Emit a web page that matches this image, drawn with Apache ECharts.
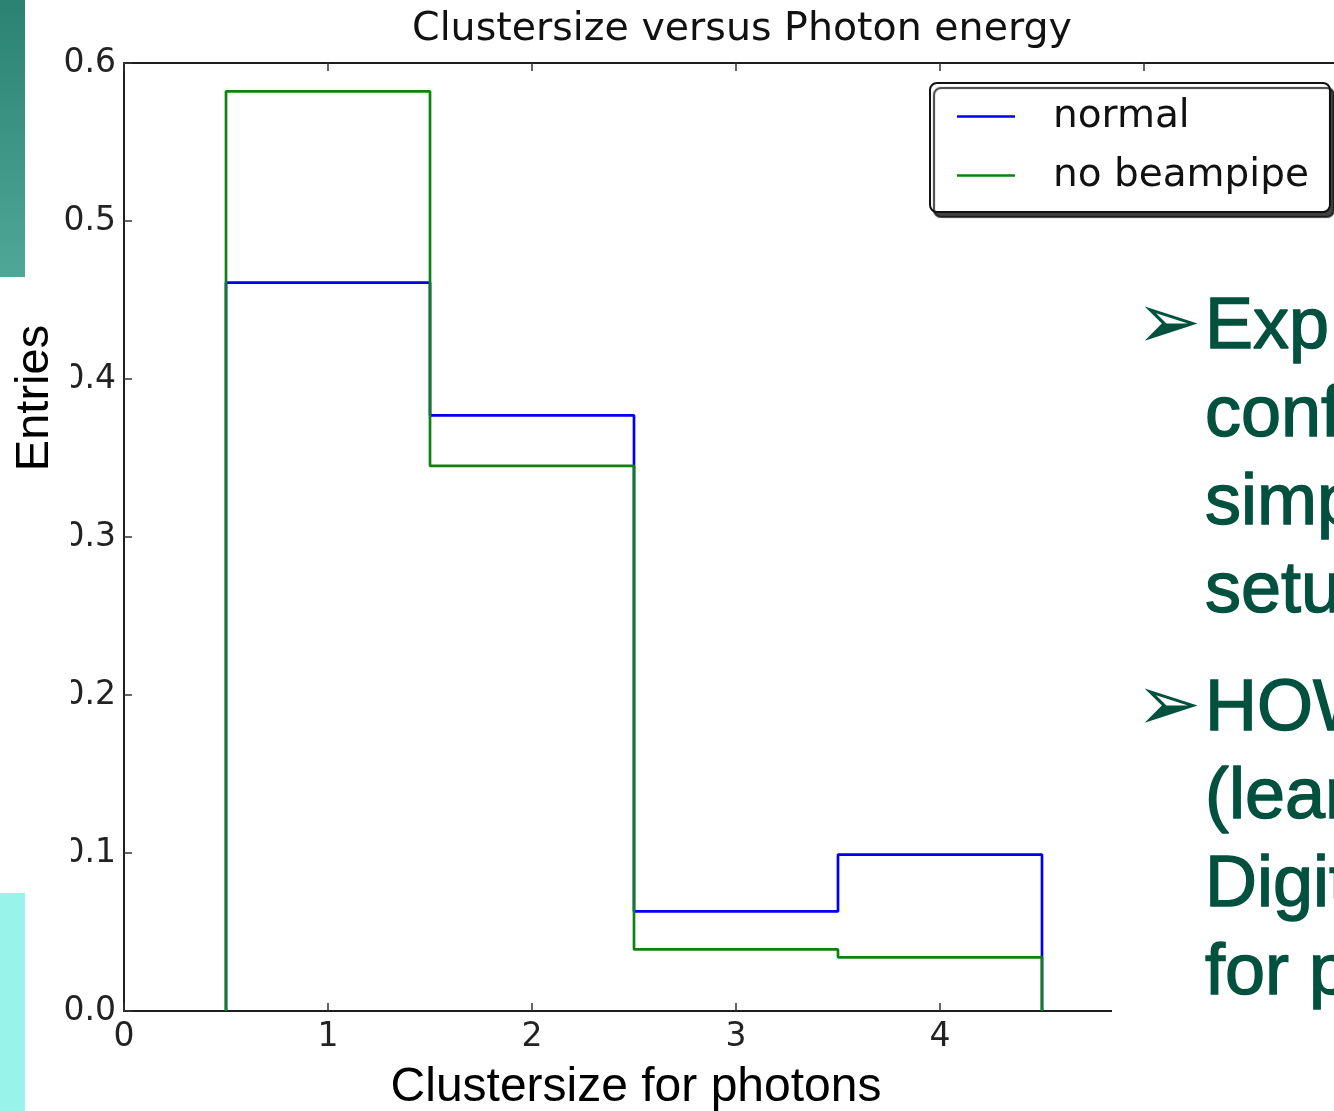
<!DOCTYPE html>
<html>
<head>
<meta charset="utf-8">
<script src="https://cdn.jsdelivr.net/npm/echarts@6/dist/echarts.min.js"></script>
<style>
  html, body { margin: 0; padding: 0; background: #fff; overflow: hidden; }
  #main { width: 1334px; height: 1111px; }
</style>
</head>
<body>
<div id="main"></div>
<script>
  // histogram bins (edges) and normalised entries per bin
  var binEdges = [0.5, 1.5, 2.5, 3.5, 4.5]
  var normal = [0.461, 0.377, 0.063, 0.099]
  var noBeampipe = [0.582, 0.345, 0.039, 0.034]
  var seriesNames = ['normal', 'no beampipe']
  // bullet text of the slide next to the plot (cut off by the crop)
  var bulletOne = ['Exp', 'conf', 'simp', 'setu']
  var bulletTwo = ['HOW', '(lear', 'Digit', 'for p']

  function stepPoints(values) {
    var pts = [[binEdges[0], 0]]
    values.forEach(function (v, i) {
      pts.push([binEdges[i], v])
      pts.push([binEdges[i + 1], v])
    })
    pts.push([binEdges[binEdges.length - 1], 0])
    return pts
  }

  var axisColor = '#1e1e1e'
  var tickFont = 'DejaVu Sans'
  var slideGreen = '#02513f'

  var graphics = [
    // teal bars of the slide template
    { type: 'rect', z: 100, shape: { x: 0, y: 0, width: 25, height: 277 },
      style: { fill: new echarts.graphic.LinearGradient(0, 0, 0, 1, [
        { offset: 0, color: '#2b8272' }, { offset: 1, color: '#4ea797' }]) } },
    { type: 'rect', z: 100, shape: { x: 0, y: 893, width: 25, height: 218 },
      style: { fill: '#98f4eb' } },
    // white text boxes laid over the plot
    { type: 'rect', z: 100, shape: { x: 25, y: 278, width: 46, height: 614 }, style: { fill: '#fff' } },
    { type: 'rect', z: 100, shape: { x: 1112, y: 232, width: 236, height: 879 }, style: { fill: '#fff' } },
    { type: 'text', z: 101, x: 35, y: 398, rotation: Math.PI / 2,
      style: { text: 'Entries', font: '47px "Liberation Sans"', fill: '#000',
        align: 'center', verticalAlign: 'middle' } },
    { type: 'text', z: 101, x: 636, y: 1088,
      style: { text: 'Clustersize for photons', font: '48px "Liberation Sans"', fill: '#000',
        align: 'center', verticalAlign: 'middle' } }
  ]

  function addLines(lines, firstMid) {
    graphics.push({ type: 'text', z: 101, x: 1136, y: firstMid,
      style: { text: '➢', font: '78px "DejaVu Sans"', fill: slideGreen, verticalAlign: 'middle' } })
    lines.forEach(function (t, i) {
      graphics.push({ type: 'text', z: 101, x: 1205, y: firstMid + i * 88,
        style: { text: t, font: '72px "Liberation Sans"', fill: slideGreen, verticalAlign: 'middle',
          stroke: slideGreen, lineWidth: 1.4 } })
    })
  }
  addLines(bulletOne, 328)
  addLines(bulletTwo, 710)

  var chart = echarts.init(document.getElementById('main'))
  chart.setOption({
    animation: false,
    backgroundColor: '#fff',
    title: {
      text: 'Clustersize versus Photon energy',
      left: 737,
      top: 5,
      textAlign: 'center',
      textStyle: { fontFamily: tickFont, fontSize: 39.5, fontWeight: 'normal', color: '#111' }
    },
    legend: {
      data: seriesNames,
      orient: 'vertical',
      left: 930,
      top: 83,
      icon: 'rect',
      itemWidth: 58,
      itemHeight: 2.5,
      itemGap: 20,
      padding: [14, 21, 17, 27],
      backgroundColor: '#fff',
      borderColor: '#111',
      borderWidth: 2,
      borderRadius: 7,
      shadowColor: 'rgba(0,0,0,0.75)',
      shadowOffsetX: 4,
      shadowOffsetY: 5,
      shadowBlur: 1,
      textStyle: { fontFamily: tickFont, fontSize: 39, color: '#111', padding: [0, 0, 0, 33], lineHeight: 39 }
    },
    // the plot box runs past the right edge of the crop (x up to 6)
    grid: { left: 124, top: 63, width: 1224, bottom: 100, outerBoundsMode: 'none', containLabel: false },
    xAxis: [
      {
        type: 'value', min: 0, max: 6, interval: 1, position: 'bottom',
        axisLine: { lineStyle: { color: axisColor, width: 2 } },
        axisTick: { inside: true, length: 8, lineStyle: { color: '#333', width: 1.5 } },
        axisLabel: { fontFamily: tickFont, fontSize: 33, color: '#222', margin: 10 },
        splitLine: { show: false }
      },
      {
        type: 'value', min: 0, max: 6, interval: 1, position: 'top',
        axisLine: { lineStyle: { color: axisColor, width: 2 } },
        axisTick: { inside: true, length: 8, lineStyle: { color: '#333', width: 1.5 } },
        axisLabel: { show: false },
        splitLine: { show: false }
      }
    ],
    yAxis: {
      type: 'value', min: 0, max: 0.6, interval: 0.1,
      axisLine: { show: true, lineStyle: { color: axisColor, width: 2 } },
      axisTick: { show: true, inside: true, length: 8, lineStyle: { color: '#333', width: 1.5 } },
      axisLabel: { fontFamily: tickFont, fontSize: 33, color: '#222', margin: 8,
        formatter: function (v) { return v.toFixed(1) } },
      splitLine: { show: false }
    },
    series: [
      { name: seriesNames[0], type: 'line', data: stepPoints(normal), showSymbol: false,
        color: '#0000ee', lineStyle: { color: '#0000ee', width: 2.7 } },
      { name: seriesNames[1], type: 'line', data: stepPoints(noBeampipe), showSymbol: false,
        color: '#108010', lineStyle: { color: '#108010', width: 2.7 } }
    ],
    graphic: graphics
  })
</script>
</body>
</html>
